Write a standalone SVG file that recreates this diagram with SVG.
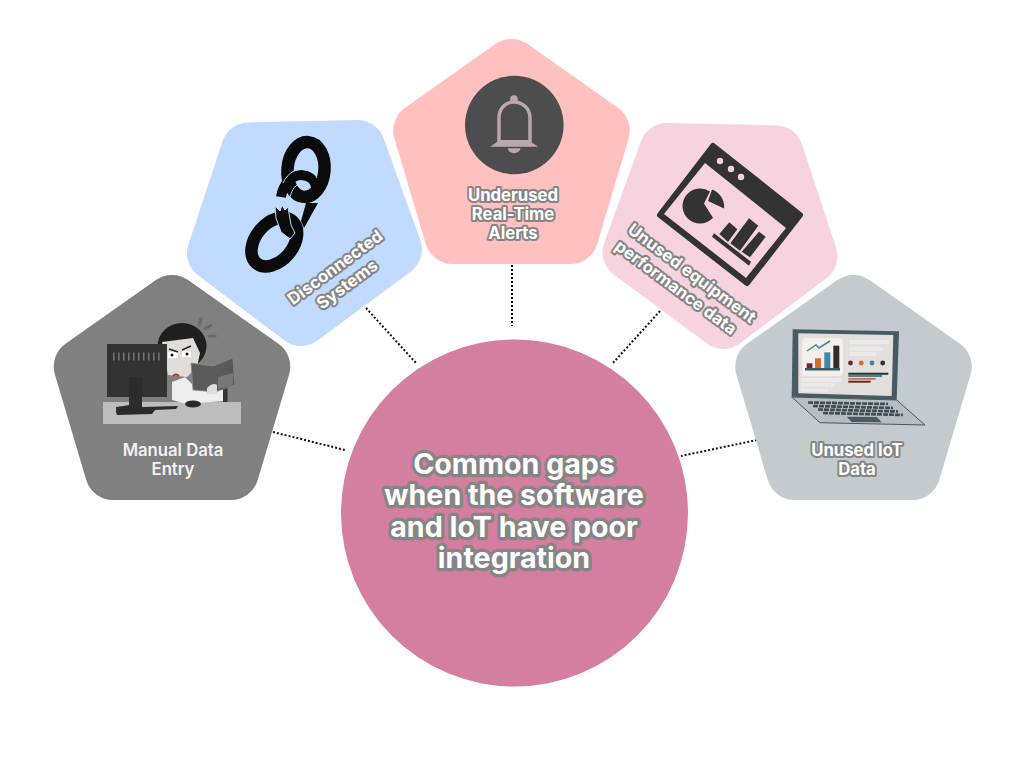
<svg xmlns="http://www.w3.org/2000/svg" width="1024" height="768" viewBox="0 0 1024 768">
<style>
.pent{stroke-width:56;stroke-linejoin:round}
.lbl{font-family:Inter,"Liberation Sans",sans-serif;font-weight:700;font-size:16.7px;text-anchor:middle;fill:#fff;stroke:#858585;stroke-width:4px;stroke-linejoin:round;paint-order:stroke}
.plain{stroke:none;fill:#f2f2f2;font-weight:600}
.big{font-size:28.6px;stroke-width:6.5px}
.conn{fill:none;stroke:#111;stroke-width:2;stroke-dasharray:2 2}
.lap{fill:#ece9e6}
</style>
<defs>
<polygon id="pentagon" points="0,-84.100 90.300,-20.400 58.900,85 -58.900,85 -90.300,-20.400"/>
</defs>
<rect width="1024" height="768" fill="#fff"/>
<g id="connectors">
<path class="conn" d="M273 432L345 450"/>
<path class="conn" d="M366 308L416 363"/>
<path class="conn" d="M512 265V326"/>
<path class="conn" d="M660 311L613 363"/>
<path class="conn" d="M757 440L681 456"/>
</g>
<g id="node-manual">
<use href="#pentagon" class="pent" fill="#808080" stroke="#808080" transform="translate(172,387)"/>
<rect x="103" y="402" width="138" height="22" fill="#bdbdbd"/>
<ellipse cx="200" cy="322" rx="1.800" ry="5" fill="#6a6a6a" transform="rotate(15 200 322)"/>
<ellipse cx="208" cy="327" rx="5" ry="1.800" fill="#6a6a6a" transform="rotate(-30 208 327)"/>
<ellipse cx="212" cy="336" rx="5" ry="1.500" fill="#6a6a6a"/>
<path d="M223 387h4.500v15h-4.500z" fill="#333"/>
<path d="M172 382L185 377L196 388L223 390V401L187 404L172 400Z" fill="#eee"/>
<ellipse cx="182" cy="346" rx="24.500" ry="23" fill="#1f1f1f"/>
<path d="M162 342L193 338L200 353L197 367L187 377L168 375Z" fill="#dfddd9"/>
<path d="M168 352h10v6h-10zM182 351h9v6h-9z" fill="#fff"/>
<circle cx="172" cy="355" r="1.500" fill="#111"/><circle cx="187" cy="354" r="1.500" fill="#111"/>
<path d="M169 349L178 352M191 346L182 350" stroke="#222" stroke-width="1.500" fill="none"/>
<path d="M173 376q3 -3 6 0" stroke="#a33" stroke-width="2" fill="none"/>
<path d="M191 363L213 366L233 358L235 385L215 392L193 390Z" fill="#5a5a5a" stroke="#8a8a8a" stroke-width="0.800"/>
<path d="M218 377L233 373V385L218 389Z" fill="#777"/>
<path d="M207 388q6 -6 10 -3v9h-10z" fill="#ddd"/>
<ellipse cx="193" cy="404" rx="8" ry="3.500" fill="#2a2a2a"/>
<rect x="107" y="344" width="60" height="53" fill="#333"/>
<path d="M113 356.500H161" stroke="#777" stroke-width="8" stroke-dasharray="1.500 3.500" fill="none"/>
<path d="M129 377H142V410H129Z" fill="#2c2c2c"/>
<path d="M116 407L130 405L143 407L178 406L176 409L155 410L152 414L117 415L116 412Z" fill="#2c2c2c"/>
<text class="lbl plain" x="173" y="456">Manual Data</text>
<text class="lbl plain" x="173" y="475">Entry</text>
</g>
<g id="node-disconnected">
<use href="#pentagon" class="pent" fill="#c0dbff" stroke="#c0dbff" transform="translate(303.5,224) rotate(-36.5) scale(0.985) translate(0,-9.4)"/>
<path d="M318 203L306 203L301 221L304 228Z" fill="#0a0a0a"/>
<path d="M281 197C283 184 292 175 301 175C310 175 316 181 316 188" fill="none" stroke="#0a0a0a" stroke-width="10"/>
<ellipse cx="306" cy="169.500" rx="18.500" ry="27.500" transform="rotate(5 306 169.500)" fill="none" stroke="#0a0a0a" stroke-width="12.500"/>
<path d="M283 183C288 172 297 168 305 170C311 171 315 174 317 178" fill="none" stroke="#c0dbff" stroke-width="1"/>
<path d="M290 197C292 189 296 184 301 184C305 184 307 187 308 190" fill="none" stroke="#c0dbff" stroke-width="1"/>
<ellipse cx="274.300" cy="242" rx="18.700" ry="27.700" transform="rotate(40 274.300 242)" fill="none" stroke="#0a0a0a" stroke-width="12.500"/>
<path d="M275 206L280 211L282 205L285 210L288 207L291 225L295 233L290 239L281 232L276 218Z" fill="#0a0a0a" stroke="#c0dbff" stroke-width="1"/>
<text class="lbl" transform="translate(338.5,272) rotate(-36.5)">Disconnected</text>
<text class="lbl" transform="translate(350.5,289) rotate(-36.5)">Systems</text>
</g>
<g id="node-alerts">
<use href="#pentagon" class="pent" fill="#ffc0c0" stroke="#ffc0c0" transform="translate(511.5,151)"/>
<circle cx="514.3" cy="125" r="49.3" fill="#4d4d4d"/>
<circle cx="514" cy="99" r="3.800" fill="#bba8ad"/>
<path d="M499 142V118C499 108 506 102 514 102C522 102 530 108 530 118V142" fill="none" stroke="#bba8ad" stroke-width="3.500"/>
<path d="M490 146.700L500 140H528L538.300 146.700Z" fill="#bba8ad"/>
<path d="M507.700 148.300h12.700a6.300 5 0 0 1 -12.700 0z" fill="#bba8ad"/>
<text class="lbl" x="513" y="200.500">Underused</text>
<text class="lbl" x="513" y="220">Real-Time</text>
<text class="lbl" x="513" y="239">Alerts</text>
</g>
<g id="node-equipment">
<use href="#pentagon" class="pent" fill="#f7d2df" stroke="#f7d2df" transform="translate(721,227) rotate(36.5) scale(0.985) translate(0,-9.4)"/>
<path d="M713 146L800 215L747 283L660 215Z" fill="#333" stroke="#333" stroke-width="6" stroke-linejoin="round"/>
<path d="M705 163L786 228L746 278L664 214Z" fill="#f7d2df"/>
<circle cx="720" cy="161" r="3.200" fill="#f7d2df"/><circle cx="731" cy="169" r="3.200" fill="#f7d2df"/><circle cx="741" cy="177" r="3.200" fill="#f7d2df"/>
<path d="M704 203.500L710 191.600A17.500 17.500 0 1 0 713 217.700Z" fill="#333"/>
<path d="M708 201L712 189.500A18 18 0 0 1 724 208.500Z" fill="#333"/>
<polygon fill="#333" points="719.3,234 729.3,222.3 737.3,229.3 728,242"/>
<polygon fill="#333" points="730.3,243.3 749,218.3 758.3,225.7 740,250.7"/>
<polygon fill="#333" points="741.7,251.7 759,231.7 765.7,236.7 750,257.3"/>
<polygon fill="#333" points="714,233.3 751,261.7 749,265.7 712,236.7"/>
<text class="lbl" transform="translate(688.5,278) rotate(36.5)">Unused equipment</text>
<text class="lbl" transform="translate(672.5,292) rotate(36.5)">performance data</text>
</g>
<g id="node-iot">
<use href="#pentagon" class="pent" fill="#c5cacf" stroke="#c5cacf" transform="translate(853.5,387)"/>
<polygon fill="#4a5a63" points="792.7,329.3 899,331.3 896.7,400 791.7,396.7"/>
<polygon fill="#e2dfdd" points="798.3,333.3 893.3,335 891.7,396 798.3,393.3"/>
<rect x="802" y="338" width="41" height="38" rx="4" fill="#f3efeb"/>
<path d="M806.700 363.300h5.700v5h-5.700z" fill="#6f2530"/>
<path d="M815 358.300h6v10h-6z" fill="#d0702f"/>
<path d="M824.300 352.300h6v16h-6z" fill="#3d87a8"/>
<path d="M833.300 345.700h6v22.600h-6z" fill="#2e2e2e"/>
<path d="M805 368h35v2.500h-35z" fill="#3b5565"/>
<path d="M807 351L816 345L819 348L830 341" fill="none" stroke="#3d87a8" stroke-width="1.500"/>
<path class="lap" d="M849 340h40v4h-40zM849 346.700h34v4h-34zM849 352h27v4h-27zM801 378h40v4h-40zM801 383.300h34v3.500h-34zM801 388.700h27v3.300h-27z"/>
<circle cx="850.500" cy="363" r="2.400" fill="#6f2530"/><circle cx="861.300" cy="363" r="2.400" fill="#d0702f"/><circle cx="872" cy="363" r="2.400" fill="#3d87a8"/><circle cx="882.700" cy="363" r="2.400" fill="#2e2e2e"/>
<path d="M848.300 372.700h40v2h-40z" fill="#2e2e2e"/>
<path d="M848.300 375h33.700v2h-33.700z" fill="#3d87a8"/>
<path d="M848.300 378h27.400v1.700h-27.400z" fill="#d0702f"/>
<path d="M848.300 380.700h22.400v2h-22.400z" fill="#6f2530"/>
<polygon fill="#babdbf" stroke="#48565e" stroke-width="1" points="791.700,397 896.700,400 925,425 820,422.700"/>
<path d="M808 402.500L888 404M813 406L893 408M818 409.500L898 411.500M823 413L903 415" fill="none" stroke="#3f4d55" stroke-width="2.700" stroke-dasharray="5 1"/>
<polygon fill="#4a5a63" points="846.700,416.700 876.700,417 881.700,422.300 851.700,422"/>
<text class="lbl" x="857" y="456">Unused IoT</text>
<text class="lbl" x="857" y="475">Data</text>
</g>
<g id="node-center">
<circle cx="514.500" cy="513" r="173.500" fill="#d47fa0"/>
<text class="lbl big" x="514" y="473.500">Common gaps</text>
<text class="lbl big" x="514" y="505">when the software</text>
<text class="lbl big" x="514" y="536.500">and IoT have poor</text>
<text class="lbl big" x="514" y="568">integration</text>
</g>
</svg>
